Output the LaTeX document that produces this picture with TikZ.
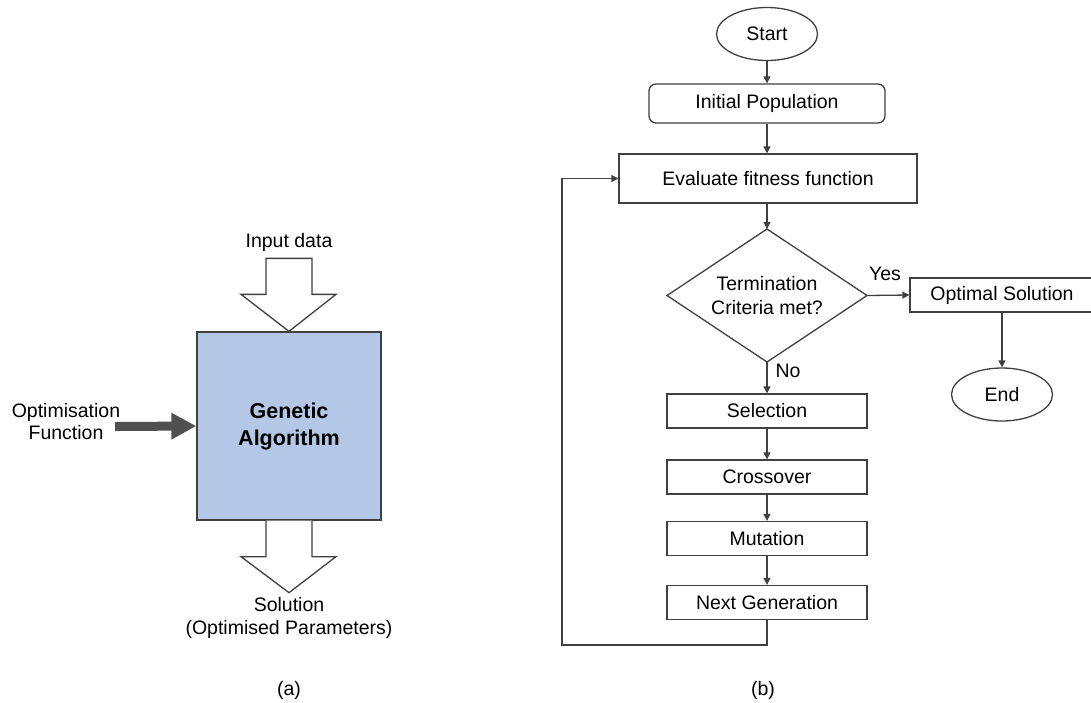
\documentclass[tikz,border=0pt]{standalone}
\usepackage{fontspec}
\setmainfont{Liberation Sans}
\usetikzlibrary{shapes.geometric,arrows.meta,calc}
\definecolor{ln}{HTML}{404040}
\definecolor{gafill}{HTML}{B4C7E7}
\definecolor{thickgrey}{HTML}{505050}
\begin{document}
\begin{tikzpicture}[x=1pt,y=-1pt,
  font=\fontsize{19.5}{23}\selectfont,
  box/.style={draw=ln, line width=1.3pt, minimum height=34pt, inner sep=0pt, text=black},
  term/.style={ellipse, draw=ln, line width=1.3pt, inner sep=0pt, minimum width=101pt, minimum height=53pt},
  conn/.style={draw=ln, line width=1.3pt, -{Triangle[length=7pt,width=7pt]}},
  blockarrow/.style={draw=ln, line width=1.3pt, fill=white, line join=miter},
  lbl/.style={inner sep=0pt, align=center}]
\useasboundingbox (0,0) rectangle (1091,702);

% ---------- (a) ----------
\node[draw=ln, line width=1.3pt, fill=gafill, minimum width=184pt, minimum height=188pt, inner sep=0pt,
      align=center, font=\fontsize{21.5}{27}\selectfont\bfseries] (ga) at (289,426) {Genetic\\Algorithm};
\node[lbl] (input) at (289,242) {Input data};
\node[lbl, font=\fontsize{19.5}{22}\selectfont] (optf) at (66,422) {Optimisation\\Function};
\node[lbl, font=\fontsize{19.5}{23}\selectfont] (sol) at (289,617.5) {Solution\\(Optimised Parameters)};
\node[lbl] (capa) at (289,690) {(a)};

\draw[blockarrow] ($(ga.north)+(-23,-73)$) -- ++(46,0) -- ++(0,36) -- ++(24,0) -- (ga.north)
  -- ($(ga.north)+(-48,-37)$) -- ++(25,0) -- cycle;
\draw[blockarrow] ($(ga.south)+(-23,0)$) -- ++(0,36) -- ++(-25,0) -- ($(ga.south)+(0,72)$)
  -- ($(ga.south)+(47,36)$) -- ++(-24,0) -- ++(0,-36);

\coordinate (optstart) at (115,426.5);
\draw[thickgrey, line width=9pt, -{Triangle[length=25pt,width=25pt]}] (optstart) -- (ga.west);

% ---------- (b) ----------
\node[term] (start) at (767,34) {Start};
\node[box, rounded corners=7pt, minimum width=236pt, minimum height=39pt] (init) at (767,103.5) {Initial Population};
\node[box, minimum width=298pt, minimum height=49pt] (eval) at (768,178.5) {Evaluate fitness function};
\node[diamond, draw=ln, line width=1.3pt, aspect=1.5, minimum width=200pt, minimum height=133pt,
      inner sep=0pt, outer sep=0pt, align=center, font=\fontsize{19.5}{24}\selectfont] (term) at (767,295.5)
      {Termination\\Criteria met?};
\node[box, minimum width=184pt] (opt) at (1002,295) {Optimal Solution};
\node[term] (end) at (1002,394.5) {End};
\node[box, minimum width=200pt] (sel) at (767,411) {Selection};
\node[box, minimum width=200pt] (cross) at (767,477) {Crossover};
\node[box, minimum width=200pt] (mut) at (767,538.5) {Mutation};
\node[box, minimum width=200pt] (next) at (767,602.5) {Next Generation};
\node[lbl] (yes) at (885,274) {Yes};
\node[lbl] (no) at (788,371) {No};
\node[lbl] (capb) at (763,690) {(b)};

\coordinate (loopA) at (767,645);
\coordinate (loopB) at (562,645);
\coordinate (loopC) at (562,178.5);

\draw[conn] (start) -- (init);
\draw[conn] (init) -- (init.south |- eval.north);
\draw[conn] (init.south |- eval.south) -- (term.north);
\draw[conn] (term.east) -- (opt.west);
\draw[conn] (opt) -- (end);
\draw[conn] (term.south) -- (sel.north);
\draw[conn] (sel) -- (cross);
\draw[conn] (cross) -- (mut);
\draw[conn] (mut) -- (next);
\draw[conn] (next.south) -- (loopA) -- (loopB) -- (loopC) -- (eval.west);
\end{tikzpicture}
\end{document}
